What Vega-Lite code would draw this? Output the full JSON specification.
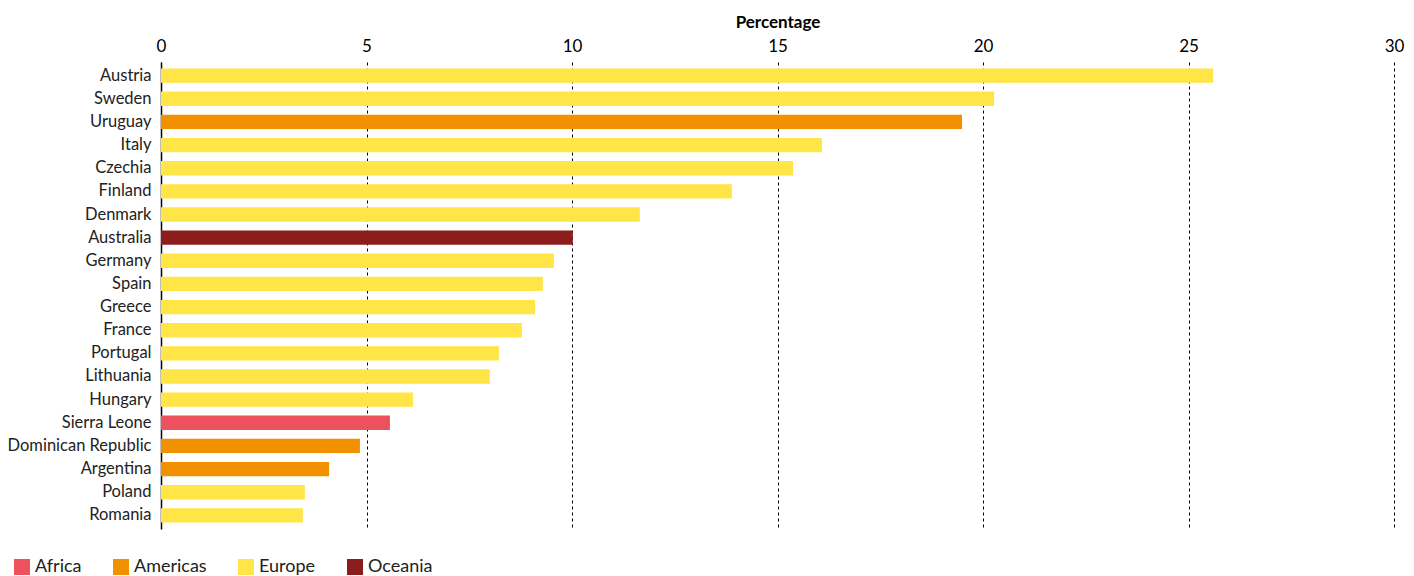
{
  "$schema": "https://vega.github.io/schema/vega-lite/v6.json",
  "autosize": "none",
  "width": 1233,
  "height": 467,
  "padding": {"left": 161, "top": 62, "right": 20, "bottom": 47},
  "background": "white",
  "data": {"values": [
    {"country": "Austria", "region": "Europe", "value": 25.6},
    {"country": "Sweden", "region": "Europe", "value": 20.27},
    {"country": "Uruguay", "region": "Americas", "value": 19.49},
    {"country": "Italy", "region": "Europe", "value": 16.08},
    {"country": "Czechia", "region": "Europe", "value": 15.38},
    {"country": "Finland", "region": "Europe", "value": 13.89},
    {"country": "Denmark", "region": "Europe", "value": 11.65},
    {"country": "Australia", "region": "Oceania", "value": 10.02},
    {"country": "Germany", "region": "Europe", "value": 9.56},
    {"country": "Spain", "region": "Europe", "value": 9.29},
    {"country": "Greece", "region": "Europe", "value": 9.1},
    {"country": "France", "region": "Europe", "value": 8.78},
    {"country": "Portugal", "region": "Europe", "value": 8.22},
    {"country": "Lithuania", "region": "Europe", "value": 8.0},
    {"country": "Hungary", "region": "Europe", "value": 6.13},
    {"country": "Sierra Leone", "region": "Africa", "value": 5.57},
    {"country": "Dominican Republic", "region": "Americas", "value": 4.84},
    {"country": "Argentina", "region": "Americas", "value": 4.09},
    {"country": "Poland", "region": "Europe", "value": 3.5},
    {"country": "Romania", "region": "Europe", "value": 3.45}
  ]},
  "config": {
    "font": "Lato",
    "view": {"stroke": null}
  },
  "mark": {"type": "bar"},
  "encoding": {
    "y": {
      "field": "country", "type": "nominal",
      "sort": {"field": "value", "order": "descending"},
      "scale": {"paddingInner": 0.38, "paddingOuter": 0.28},
      "axis": {
        "title": null, "ticks": false, "grid": false,
        "domain": true, "domainColor": "black", "domainWidth": 1.5,
        "labelFontSize": 16.5, "labelColor": "#222", "labelPadding": 10
      }
    },
    "x": {
      "field": "value", "type": "quantitative",
      "scale": {"domain": [0, 30], "nice": false},
      "axis": {
        "orient": "top", "title": "Percentage", "titleFontSize": 17,
        "titleFontWeight": "bold", "titleColor": "black", "titlePadding": 6,
        "values": [0, 5, 10, 15, 20, 25, 30],
        "labelFontSize": 17, "labelColor": "black", "labelPadding": 7, "labelFlush": false,
        "ticks": false, "domain": false,
        "grid": true, "gridColor": "black", "gridDash": [3, 3], "gridWidth": 1, "gridOpacity": 1
      }
    },
    "color": {
      "field": "region", "type": "nominal",
      "scale": {
        "domain": ["Africa", "Americas", "Europe", "Oceania"],
        "range": ["#ec525e", "#f29100", "#ffe545", "#8b1d1d"]
      },
      "legend": {
        "title": null, "orient": "none", "direction": "horizontal",
        "legendX": -148, "legendY": 496,
        "symbolType": "square", "symbolSize": 256, "symbolStrokeWidth": 0, "symbolOpacity": 1,
        "labelFontSize": 18, "labelColor": "#222", "columnPadding": 30, "labelOffset": 4
      }
    }
  }
}
